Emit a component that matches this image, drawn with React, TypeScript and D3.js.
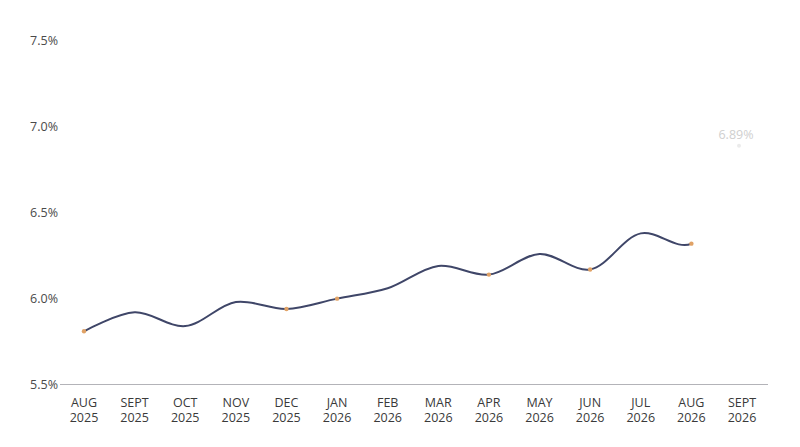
import React, { useEffect, useRef } from 'react';
import * as d3 from 'd3';

const months = ['AUG', 'SEPT', 'OCT', 'NOV', 'DEC', 'JAN', 'FEB', 'MAR', 'APR', 'MAY', 'JUN', 'JUL', 'AUG', 'SEPT'];
const years = ['2025', '2025', '2025', '2025', '2025', '2026', '2026', '2026', '2026', '2026', '2026', '2026', '2026', '2026'];
const rates = [5.81, 5.92, 5.84, 5.98, 5.94, 6.0, 6.06, 6.19, 6.14, 6.26, 6.17, 6.38, 6.32, 6.89];
const markedIdx = [0, 4, 5, 8, 10, 12];
const drawnUpTo = 12; // line is drawn up to AUG 2026, the last point is still fading in
const forecastIdx = 13;
const yTicks = [5.5, 6.0, 6.5, 7.0, 7.5];

const W = 800;
const H = 447;

const App: React.FC = () => {
  const svgRef = useRef<SVGSVGElement>(null);

  useEffect(() => {
    const svg = d3.select(svgRef.current);
    const font = '"Open Sans", Lato, sans-serif';

    const x = d3.scalePoint<number>()
      .domain(d3.range(months.length))
      .range([84, 742]);
    const y = d3.scaleLinear().domain([5.5, 7.5]).range([384.5, 41]);

    // y labels
    svg.append('g')
      .selectAll('text')
      .data(yTicks)
      .join('text')
      .attr('x', 58)
      .attr('y', (d) => y(d))
      .attr('dy', '0.35em')
      .attr('text-anchor', 'end')
      .attr('font-family', font)
      .attr('font-size', 12.5)
      .attr('fill', '#4a4a4a')
      .text((d) => d.toFixed(1) + '%');

    // baseline
    svg.append('line')
      .attr('x1', 60).attr('x2', 768)
      .attr('y1', y(5.5)).attr('y2', y(5.5))
      .attr('stroke', '#b3b3b8')
      .attr('stroke-width', 1.2);

    // x labels
    const xl = svg.append('g')
      .selectAll('text')
      .data(months)
      .join('text')
      .attr('text-anchor', 'middle')
      .attr('font-family', font)
      .attr('font-size', 12.5)
      .attr('fill', '#3a3a3a');
    xl.append('tspan').attr('x', (_, i) => x(i)!).attr('y', 407).text((d) => d);
    xl.append('tspan').attr('x', (_, i) => x(i)!).attr('y', 422).text((_, i) => years[i]);

    // clip for the partially drawn line
    svg.append('clipPath')
      .attr('id', 'reveal')
      .append('rect')
      .attr('x', 0).attr('y', 0)
      .attr('width', x(drawnUpTo)!).attr('height', H);

    const line = d3.line<number>()
      .x((_, i) => x(i)!)
      .y((d) => y(d))
      .curve(d3.curveCatmullRom.alpha(0.5));
    svg.append('path')
      .attr('d', line(rates))
      .attr('clip-path', 'url(#reveal)')
      .attr('fill', 'none')
      .attr('stroke', '#3f4668')
      .attr('stroke-width', 2);

    // markers
    svg.append('g')
      .selectAll('circle')
      .data(markedIdx)
      .join('circle')
      .attr('cx', (i) => x(i)!)
      .attr('cy', (i) => y(rates[i]))
      .attr('r', 2.2)
      .attr('fill', '#e0a266');

    // faded forecast
    svg.append('circle')
      .attr('cx', x(forecastIdx)! - 3)
      .attr('cy', y(rates[forecastIdx]))
      .attr('r', 2)
      .attr('fill', '#ebebeb');
    svg.append('text')
      .attr('x', x(forecastIdx)! - 6)
      .attr('y', y(rates[forecastIdx]) - 7)
      .attr('text-anchor', 'middle')
      .attr('font-family', font)
      .attr('font-size', 12.5)
      .attr('fill', '#cfcfcf')
      .text(rates[forecastIdx].toFixed(2) + '%');

    return () => {
      svg.selectAll('*').remove();
    };
  }, []);

  return <svg ref={svgRef} width={W} height={H} style={{ display: 'block', position: 'absolute', left: 0, top: 0 }}></svg>;
};

export default App;
